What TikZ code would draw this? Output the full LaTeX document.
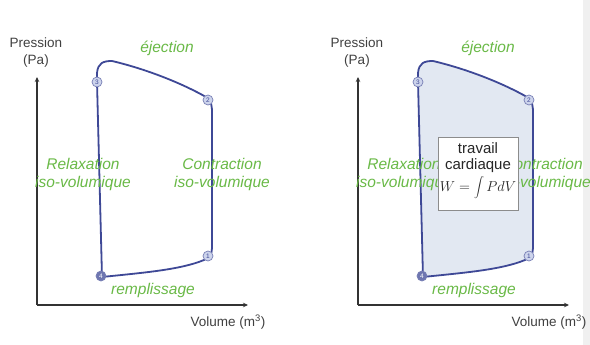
\documentclass[tikz,border=0pt]{standalone}
\usepackage{fontspec}
\setmainfont{Liberation Sans}
\usetikzlibrary{arrows.meta}
\definecolor{grn}{RGB}{105,185,70}
\definecolor{loopc}{RGB}{62,72,150}
\definecolor{fillc}{RGB}{226,232,242}
\definecolor{ptfill}{RGB}{205,212,236}
\tikzset{
  axis/.style={draw=black!80, line width=1.2pt, -{Stealth[length=5pt,width=4.5pt]}},
  axlabel/.style={font=\fontsize{13.5}{17}\selectfont, text=black!75, inner sep=0pt, align=center},
  phase/.style={font=\fontsize{15.5}{18}\selectfont\itshape, text=grn, inner sep=0pt, align=center},
  loopline/.style={draw=loopc, line width=1.8pt, line join=round},
  ptmark/.style={circle, draw=loopc!70, fill=ptfill, line width=0.7pt, minimum size=10pt, inner sep=0pt, font=\fontsize{6.5}{7}\selectfont, text=loopc},
  workbox/.style={draw=black!45, fill=white, line width=0.8pt, minimum width=80pt, minimum height=73pt, inner sep=0pt},
  boxtext/.style={font=\fontsize{15}{18}\selectfont, text=black!85, inner sep=0pt}
}
\newcommand\cyclepanel[2]{%
  \coordinate (#1-o) at (37,305);
  \coordinate (#1-ytop) at (37,77);
  \coordinate (#1-xend) at (248,305);
  \draw[axis] (#1-o) -- (#1-ytop);
  \draw[axis] (#1-o) -- (#1-xend);
  \node[axlabel] (#1-p) at (36,53) {Pression\\(Pa)};
  \node[axlabel] (#1-v) at (228,322) {Volume (m\textsuperscript{3})};
  \filldraw[loopline, fill=#2] (97,82) -- (97,73)
     .. controls (98,63) and (103,61) .. (112,61)
     .. controls (150,70) and (185,85) .. (206,97)
     .. controls (212,101) and (212,106) .. (212,115)
     -- (212,248)
     .. controls (212,255) and (209,258) .. (204,260)
     .. controls (180,270) and (140,273) .. (102,277)
     -- cycle;
  \node[phase] (#1-ej) at (167,48) {éjection};
  \node[phase] (#1-rem) at (153,290) {remplissage};
  \node[phase] (#1-rel) at (83,174) {Relaxation\\iso-volumique};
  \node[phase] (#1-con) at (222,174) {Contraction\\iso-volumique};
  \node[ptmark] (#1-p3) at (97,82) {3};
  \node[ptmark] (#1-p2) at (208,100) {2};
  \node[ptmark] (#1-p1) at (208,256) {1};
  \node[ptmark, fill=loopc!75, text=white] (#1-p4) at (101,276) {4};
}
\begin{document}
\begin{tikzpicture}[x=1pt, y=-1pt]
  \useasboundingbox (0,0) rectangle (590,345);
  \fill[black!6] (583,0) rectangle (590,345);
  \begin{scope}
    \cyclepanel{L}{white}
  \end{scope}
  \begin{scope}[xshift=321pt]
    \cyclepanel{R}{fillc}
    \node[workbox] (R-box) at (157,174) {};
    \node[boxtext] (R-t1) at (157,148) {travail};
    \node[boxtext] (R-t2) at (157,166) {cardiaque};
    \node[boxtext] (R-t3) at (157,188) {$W=\displaystyle\int PdV$};
  \end{scope}
\end{tikzpicture}
\end{document}
